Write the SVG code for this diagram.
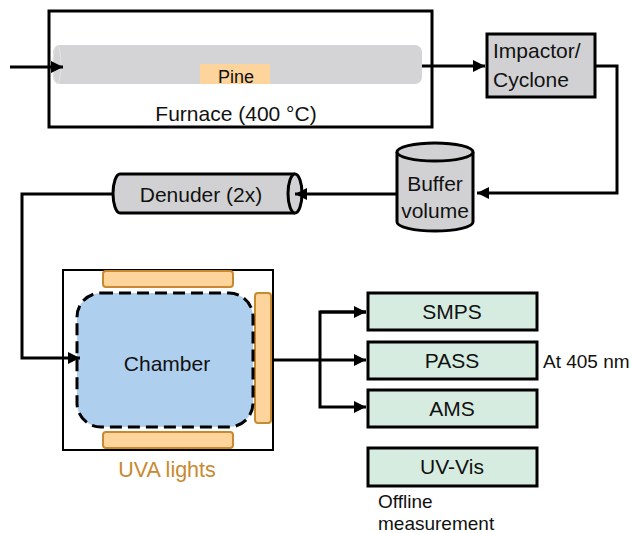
<svg xmlns="http://www.w3.org/2000/svg" width="632" height="533" viewBox="0 0 632 533">
<defs>
<marker id="ah" viewBox="0 0 10 10" refX="10" refY="5" markerWidth="4" markerHeight="4" markerUnits="strokeWidth" orient="auto">
<path d="M0,0 L10,5 L0,10 Z" fill="#000"/>
</marker>
</defs>
<style>
text{font-family:"Liberation Sans",Arial,sans-serif;fill:#111}
.t18{font-size:21px}
.t16{font-size:19px}
.box{stroke:#000;stroke-width:3}
.gray{fill:#d1d1d3}
.mint{fill:#d6ece0}
.lamp{fill:#fdd49c;stroke:#c8892f;stroke-width:2}
.conn{fill:none;stroke:#000;stroke-width:3}
</style>
<rect width="632" height="533" fill="#fff"/>
<g id="furnace">
<rect x="49" y="11" width="383" height="116" fill="#fff" class="box"/>
<rect x="53" y="45" width="369" height="39" rx="7" fill="#d4d4d6"/>
<ellipse cx="57" cy="64.5" rx="4" ry="19" fill="none" stroke="#e4e4e6" stroke-width="1"/>
<rect x="200" y="64" width="70" height="20" fill="#fdd49c"/>
<text x="236" y="83" text-anchor="middle" style="font-size:18px">Pine</text>
<text x="236" y="121" text-anchor="middle" class="t18">Furnace (400 °C)</text>
</g>
<g id="impactor">
<rect x="487" y="34" width="108" height="63" class="box gray"/>
<text x="493" y="58" class="t18">Impactor/</text>
<text x="493" y="87" class="t18">Cyclone</text>
</g>
<g id="buffer">
<path d="M397,152 L397,222 A38,9 0 0 0 473,222 L473,152" class="box gray"/>
<ellipse cx="435" cy="152" rx="38" ry="9" class="box gray"/>
<text x="435" y="191" text-anchor="middle" class="t18">Buffer</text>
<text x="435" y="218" text-anchor="middle" class="t18">volume</text>
</g>
<g id="denuder">
<path d="M295,174 L120,174 A7,19.5 0 0 0 120,213 L295,213" class="box gray"/>
<ellipse cx="295" cy="193.5" rx="7" ry="19.5" class="box gray"/>
<text x="201" y="202" text-anchor="middle" class="t18">Denuder (2x)</text>
</g>
<g id="chamber">
<rect x="63" y="270" width="210" height="180" fill="#fff" stroke="#000" stroke-width="2"/>
<rect x="103" y="271" width="130" height="16" rx="3" class="lamp"/>
<rect x="103" y="432" width="130" height="16" rx="3" class="lamp"/>
<rect x="255" y="293" width="16" height="130" rx="3" class="lamp"/>
<rect x="77" y="293" width="176" height="134" rx="24" fill="#afcfee" stroke="#000" stroke-width="3" stroke-dasharray="12,6"/>
<text x="167" y="371" text-anchor="middle" class="t18">Chamber</text>
<text x="167" y="477" text-anchor="middle" style="font-size:21.5px;fill:#c8892f">UVA lights</text>
</g>
<g id="smps">
<rect x="368" y="293" width="169" height="37" class="box mint"/>
<text x="452" y="319" text-anchor="middle" class="t18">SMPS</text>
</g>
<g id="pass">
<rect x="368" y="342" width="169" height="37" class="box mint"/>
<text x="452" y="368" text-anchor="middle" class="t18">PASS</text>
<text x="543" y="368" class="t16">At 405 nm</text>
</g>
<g id="ams">
<rect x="368" y="390" width="169" height="37" class="box mint"/>
<text x="452" y="416" text-anchor="middle" class="t18">AMS</text>
</g>
<g id="uvvis">
<rect x="368" y="448" width="169" height="38" class="box mint"/>
<text x="452" y="474" text-anchor="middle" class="t18">UV-Vis</text>
<text x="378" y="508" class="t16">Offline</text>
<text x="378" y="530" class="t16">measurement</text>
</g>
<g id="connectors">
<path d="M10,67 L63,67" class="conn" marker-end="url(#ah)"/>
<path d="M422,66 L485,66" class="conn" marker-end="url(#ah)"/>
<path d="M595,66 L617,66 L617,193 L477,193" class="conn" marker-end="url(#ah)"/>
<path d="M397,194 L295,194" class="conn" marker-end="url(#ah)"/>
<path d="M113,194 L22,194 L22,358 L80,358" class="conn" marker-end="url(#ah)"/>
<path d="M273,360 L366,360" class="conn" marker-end="url(#ah)"/>
<path d="M366,312 L320,312 L320,407 L366,407" class="conn" marker-end="url(#ah)"/>
<path d="M320,312 L366,312" class="conn" marker-end="url(#ah)"/>
</g>
</svg>
